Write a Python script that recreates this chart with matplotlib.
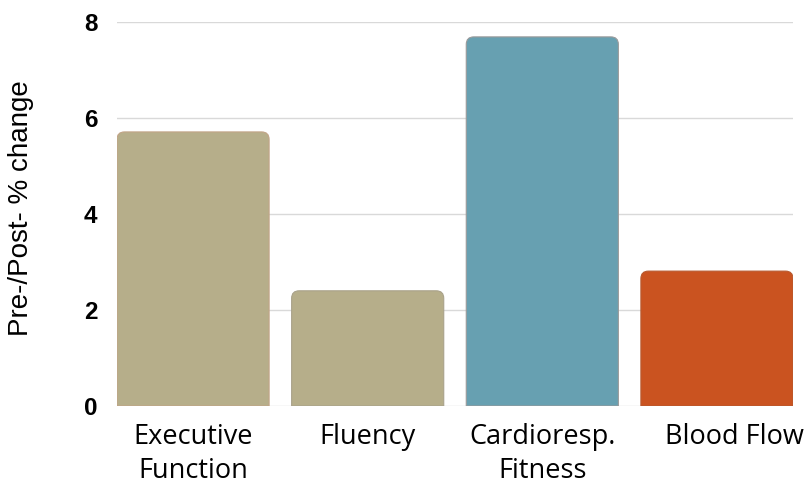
import numpy as np
import matplotlib
matplotlib.use("Agg")
import matplotlib.pyplot as plt
from matplotlib.path import Path
from matplotlib.patches import PathPatch
from matplotlib.transforms import ScaledTranslation

# pre/post percent change per outcome
categories = ["Executive\nFunction", "Fluency", "Cardioresp.\nFitness", "Blood Flow"]
values = [5.71, 2.40, 7.69, 2.81]
colors = ["#B6AE8A", "#B6AE8A", "#67A0B1", "#CA5320"]
edges = ["#C2A487", "#A9A28A", "#9A9A9A", "#B85A30"]
yticks = [0, 2, 4, 6, 8]

W, H = 809, 486
fig = plt.figure(figsize=(W / 100, H / 100), dpi=100)
ax = fig.add_axes([117 / W, (H - 406) / H, (793 - 117) / W, (406 - 22) / H])

width = 0.871
ax.set_xlim(-width / 2, len(values) - 1 + width / 2)
ax.set_ylim(0, 8)

# corner radius in pixels, converted to data units on each axis
rad_px = 7.5
px_x = (793 - 117) / (len(values) - 1 + width)
px_y = (406 - 22) / 8.0
rx, ry = rad_px / px_x, rad_px / px_y


def top_rounded_bar(x0, x1, h):
    verts = [(x0, 0), (x0, h - ry), (x0, h), (x0 + rx, h),
             (x1 - rx, h), (x1, h), (x1, h - ry), (x1, 0), (x0, 0)]
    codes = [Path.MOVETO, Path.LINETO, Path.CURVE3, Path.CURVE3,
             Path.LINETO, Path.CURVE3, Path.CURVE3, Path.LINETO, Path.CLOSEPOLY]
    return Path(verts, codes)


for i, (v, c, e) in enumerate(zip(values, colors, edges)):
    p = top_rounded_bar(i - width / 2, i + width / 2, v)
    ax.add_patch(PathPatch(p, facecolor=c, edgecolor=e, lw=0.8, zorder=3))

for s in ax.spines.values():
    s.set_visible(False)
ax.set_axisbelow(True)
ax.yaxis.grid(True, color="#D9D9D9", lw=1)
ax.set_yticks(yticks)
ax.set_yticklabels([str(t) for t in yticks], fontfamily="Liberation Sans",
                   fontweight="bold", fontsize=17.5)
ax.tick_params(axis="y", length=0, pad=14)

ax.set_xticks(range(len(values)))
ax.set_xticklabels(categories, fontfamily="Open Sans", fontsize=19.5,
                   linespacing=1.3)
ax.tick_params(axis="x", length=0, pad=12)
# last label sits a little right of its bar
lbl = ax.get_xticklabels()[-1]
lbl.set_transform(lbl.get_transform() + ScaledTranslation(17 / 100, 0, fig.dpi_scale_trans))

fig.text(21 / W, (H - 208) / H, "Pre-/Post- % change", rotation=90,
         fontfamily="Liberation Sans", fontsize=20, ha="center", va="center")

fig.savefig("out.png", dpi=100)
